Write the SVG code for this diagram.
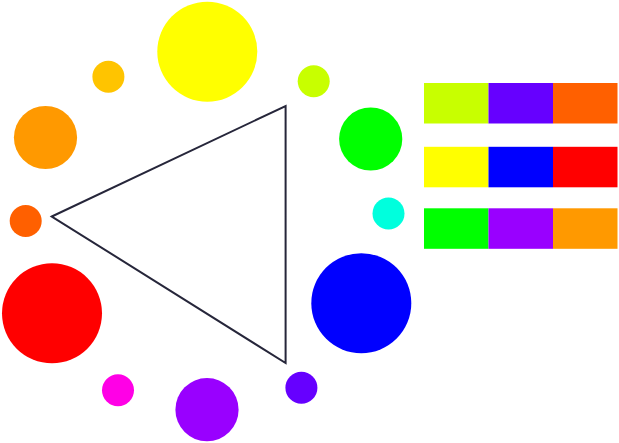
<svg xmlns="http://www.w3.org/2000/svg" width="619" height="443" viewBox="0 0 619 443">
<style>
.tri{fill:none;stroke:#26263a;stroke-width:2;stroke-linejoin:miter}
.sw{stroke:none}
</style>
<rect width="619" height="443" fill="#ffffff"/>
<g id="wheel">
<circle id="c-yellow" cx="207.3" cy="51.7" r="50" fill="#FFFF00"/>
<circle id="c-amber" cx="108.4" cy="76.7" r="16" fill="#FFC400"/>
<circle id="c-yellowgreen" cx="313.7" cy="81.2" r="16" fill="#C8FF00"/>
<circle id="c-orange" cx="45.5" cy="137.5" r="31.6" fill="#FF9900"/>
<circle id="c-green" cx="370.7" cy="139" r="31.6" fill="#00FF00"/>
<circle id="c-cyan" cx="388.5" cy="213.5" r="16" fill="#00FFDD"/>
<circle id="c-redorange" cx="25.7" cy="221" r="16" fill="#FF6000"/>
<circle id="c-red" cx="52" cy="313.3" r="50" fill="#FF0000"/>
<circle id="c-blue" cx="361.3" cy="303.2" r="50" fill="#0000FF"/>
<circle id="c-magenta" cx="118" cy="390.2" r="16" fill="#FF00E6"/>
<circle id="c-violet" cx="207" cy="409.7" r="31.6" fill="#9900FF"/>
<circle id="c-blueviolet" cx="301.4" cy="387.7" r="16" fill="#6600FF"/>
</g>
<g id="triangle">
<polygon class="tri" points="51.8,216.5 285.6,106 285.6,363"/>
</g>
<g id="swatches">
<rect class="sw" x="424" y="83" width="64.5" height="40.5" fill="#C8FF00"/>
<rect class="sw" x="488.5" y="83" width="64.5" height="40.5" fill="#6600FF"/>
<rect class="sw" x="553" y="83" width="64.5" height="40.5" fill="#FF6000"/>
<rect class="sw" x="424" y="146.8" width="64.5" height="40.5" fill="#FFFF00"/>
<rect class="sw" x="488.5" y="146.8" width="64.5" height="40.5" fill="#0000FF"/>
<rect class="sw" x="553" y="146.8" width="64.5" height="40.5" fill="#FF0000"/>
<rect class="sw" x="424" y="208.3" width="64.5" height="40.5" fill="#00FF00"/>
<rect class="sw" x="488.5" y="208.3" width="64.5" height="40.5" fill="#9900FF"/>
<rect class="sw" x="553" y="208.3" width="64.5" height="40.5" fill="#FF9900"/>
</g>
</svg>
